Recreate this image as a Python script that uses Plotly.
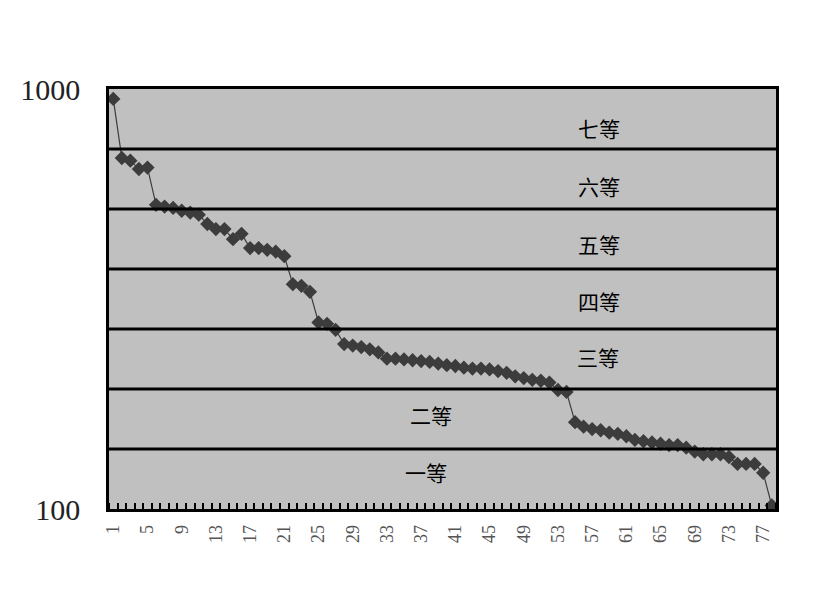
import plotly.graph_objects as go

# data
ranks = list(range(1, 79))
values = [947, 685, 675, 645, 650, 530, 525, 521, 513, 508,
          502, 477, 464, 464, 439, 452, 418, 418, 414, 410,
          400, 343, 340, 329, 278, 276, 267, 247, 245, 243,
          240, 236, 228, 228, 227, 226, 225, 224, 222, 220,
          219, 217, 216, 216, 215, 213, 211, 207, 205, 203,
          202, 200, 192, 190, 161, 157, 155, 154, 152, 151,
          149, 146, 145, 144, 143, 142, 142, 140, 137, 135,
          135, 135, 133, 128, 128, 128, 122, 102]
x_tick_vals = list(range(1, 79, 4))
x_tick_text = [str(v) for v in x_tick_vals]
y_tick_vals = [100, 1000]
y_tick_text = ["100", "1000"]
band_labels = ["七等", "六等", "五等", "四等", "三等", "二等", "一等"]

fig = go.Figure()
fig.add_trace(go.Scatter(
    x=ranks, y=values, mode="lines+markers",
    line=dict(color="#3c3c3c", width=1.2),
    marker=dict(symbol="diamond", size=11, color="#3c3c3c"),
    showlegend=False, hoverinfo="skip"))

# band separators: 7 equal bands on log scale
shapes = []
for k in range(1, 7):
    yv = 10 ** (2 + k / 7)
    shapes.append(dict(type="line", xref="paper", yref="y", x0=0, x1=1,
                       y0=yv, y1=yv, line=dict(color="black", width=3)))

band_pos = [(57.8, 0.907), (57.8, 0.769), (57.8, 0.631), (57.8, 0.495),
            (57.7, 0.361), (38.1, 0.223), (37.6, 0.089)]
annotations = []
for lab, (ax, ay) in zip(band_labels, band_pos):
    annotations.append(dict(x=ax, y=ay, xref="x", yref="paper", text=lab,
                            showarrow=False, xanchor="center", yanchor="middle",
                            font=dict(family="Noto Sans CJK TC", size=21, color="black")))

fig.update_layout(
    width=820, height=615,
    margin=dict(l=98, r=52, t=81, b=114),
    paper_bgcolor="white", plot_bgcolor="#c0c0c0",
    shapes=shapes, annotations=annotations,
    xaxis=dict(range=[0.5, 78.5], tickmode="array", tickvals=x_tick_vals,
               ticktext=x_tick_text, tickangle=-90, ticks="",
               tickfont=dict(family="Liberation Serif", size=18, color="#555555"),
               showgrid=False, zeroline=False, showline=True, linecolor="black",
               linewidth=2.5, mirror=True, ticklabelstandoff=6,
               minor=dict(tickmode="array",
                          tickvals=[i + 0.5 for i in range(0, 79)],
                          ticks="inside", ticklen=6, tickcolor="black",
                          tickwidth=1.5, showgrid=False)),
    yaxis=dict(type="log", range=[2, 3], tickmode="array", tickvals=y_tick_vals,
               ticktext=y_tick_text, ticks="",
               tickfont=dict(family="Liberation Serif", size=30, color="#222222"),
               showgrid=False, zeroline=False, showline=True, linecolor="black",
               linewidth=2.5, mirror=True, ticklabelstandoff=20),
)

fig.write_html("out.html")
